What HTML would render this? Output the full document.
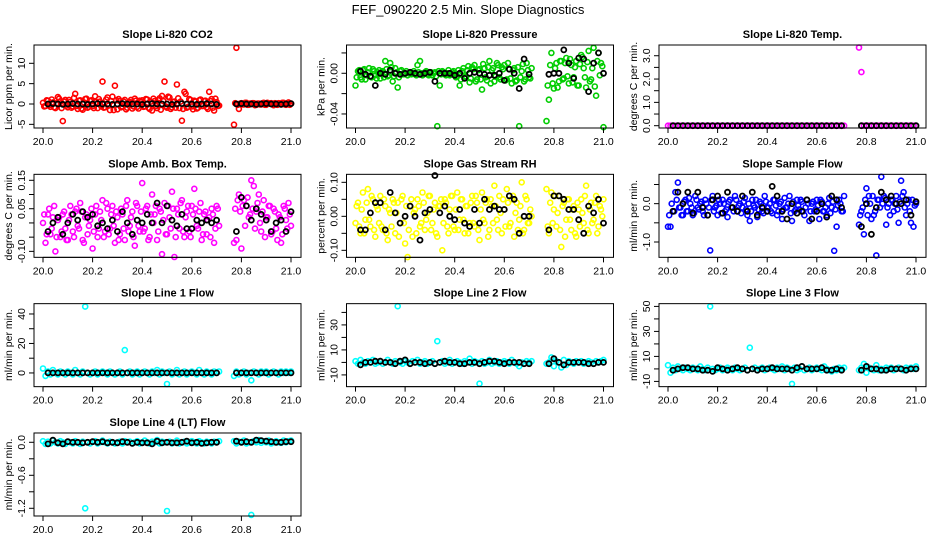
<!DOCTYPE html>
<html><head><meta charset="utf-8"><title>FEF_090220 Slope Diagnostics</title>
<style>
html,body{margin:0;padding:0;background:#fff;}
svg{display:block;font-family:"Liberation Sans",Arial,sans-serif;}
</style></head>
<body>
<svg id="fig" width="936" height="540" viewBox="0 0 936 540" xmlns="http://www.w3.org/2000/svg">
<rect width="936" height="540" fill="#fff"/>
<text x="468" y="14" text-anchor="middle" font-size="13">FEF_090220  2.5 Min. Slope Diagnostics</text>
</svg>
<script>
// x tick labels (shared)
const xTicks = [20.0, 20.2, 20.4, 20.6, 20.8, 21.0];
const xTickLabels = ["20.0", "20.2", "20.4", "20.6", "20.8", "21.0"];

// Panel 1 CO2
const co2Vals = [0.3,-0.5,0.8,-0.7,0.4,-1.0,1.7,0.6,-4.2,1.0,-0.8,0.5,-0.6,2.5,-1.2,0.9,-1.4,1.2,-0.9,0.7,-0.5,1.9,-1.0,0.6,5.5,-0.8,1.6,-1.5,1.8,4.5,-1.3,0.7,-0.6,1.0,-0.9,0.5,-1.1,1.3,-0.7,0.8,0.9,-0.6,1.1,-1.2,-1.6,0.7,-1.0,1.4,2.0,5.5,-0.9,1.6,-0.8,0.6,4.8,-1.0,-4.1,3.0,-0.9,1.2,-0.6,0.8,-1.1,0.9,-0.5,0.7,-0.8,3.0,1.2,-1.6,0.5,-0.4,
 -5.1,13.8,-1.2,0.2,-0.1,0.3,-0.2,0.1,0.2,-0.2,0.1,-0.1,0.3,-0.2,0.1,0.2,-0.3,0.1,0.2,-0.1,0.3,-0.2,0.4,0.1];
const co2Vals2 = [-0.6,0.9,-0.3,1.1,-0.8,0.2,1.3,-1.0,0.6,-0.4,1.0,-0.9,1.5,-0.5,0.8,-1.1,0.4,1.3,-0.7,0.9,-1.0,0.5,1.2,-0.6,-0.9,1.1,-0.4,0.7,-1.5,0.9,1.2,-0.8,0.6,-1.3,0.4,1.0,-0.6,0.8,-1.1,0.5,-0.7,1.2,-0.9,0.6,1.3,-0.5,0.9,-1.4,0.7,-0.6,1.8,-1.2,0.5,-0.9,1.4,0.6,-1.2,2.5,-0.7,1.0,-1.3,0.6,-0.9,1.1,-0.5,0.8,-1.2,0.7,-0.9,1.3,-0.5,
 0.2,-0.2,0.1,-0.1,0.3,-0.2,0.1,0.2,-0.3,0.1,-0.1,0.2,-0.2,0.3,0.1,-0.1,0.2,-0.2,0.1,0.3,-0.1,0.2,-0.2];
const co2Black = [0,0.1,0,-0.1,0,0.1,0,0,-0.1,0,0.1,0,0,-0.1,0,0.1,0,0,0,-0.1,0,0.1,0,0,0,-0.1,0,0.1,0,0,-0.1,0,0.1,0,-0.1,
 0,0.1,0,0,-0.1,0,0.1,0,0,-0.1,0,0.1];
const co2Ticks = [-5,0,5,10];
const co2TickLabels = ["-5","0","5","10"];

// Panel 2 Pressure
const presVals = [-0.012,0.002,-0.004,0.003,-0.006,0.001,-0.003,0.004,-0.002,0.001,-0.005,0.002,0.012,-0.003,0.010,-0.008,0.005,-0.014,0.002,-0.001,0.000,-0.002,0.001,0.000,-0.001,0.008,0.012,-0.002,0.001,-0.001,0.000,-0.002,0.001,-0.052,-0.012,0.002,-0.001,0.000,-0.002,0.001,0.000,-0.003,-0.012,0.002,-0.004,0.003,-0.009,0.006,0.008,-0.006,0.004,-0.016,0.005,-0.007,0.012,0.003,-0.008,0.010,-0.004,0.006,0.008,-0.006,0.004,-0.010,0.005,-0.007,-0.052,0.002,-0.008,0.010,-0.004,0.005,
 -0.047,-0.026,0.020,-0.015,0.010,-0.008,0.012,-0.005,0.015,-0.010,0.008,-0.004,0.012,-0.012,0.018,0.005,-0.014,0.022,-0.006,0.025,-0.022,0.020,0.010,-0.053];
const presVals2 = [-0.004,0.003,-0.006,0.004,-0.002,0.005,-0.004,0.002,-0.005,0.003,0.001,-0.004,0.004,-0.002,0.006,-0.003,0.001,-0.004,0.003,-0.001,0.002,0.000,-0.001,0.002,-0.002,0.001,0.000,-0.001,0.002,-0.002,0.001,0.000,-0.003,0.002,-0.001,0.001,-0.002,0.003,-0.001,0.002,-0.004,0.003,-0.006,0.005,-0.003,0.007,-0.005,0.004,-0.008,0.003,-0.006,0.009,-0.004,0.006,-0.010,0.005,-0.003,0.008,-0.006,0.004,-0.007,0.010,-0.005,0.003,-0.008,0.006,-0.004,0.009,-0.006,0.003,-0.005,
 -0.012,0.008,-0.010,0.005,-0.014,0.012,-0.006,0.010,-0.003,0.014,-0.009,0.006,-0.012,0.009,0.016,-0.004,0.011,-0.008,0.005,-0.013,0.012,-0.002,0.007];
const presBlack = [0.002,-0.001,-0.003,-0.012,0.000,-0.001,0.003,0.000,-0.001,0.000,0.001,0.000,-0.001,0.000,0.001,-0.008,0.000,0.000,0.000,-0.002,0.000,-0.005,0.000,0.001,0.000,-0.001,-0.002,-0.002,0.000,-0.007,0.004,0.000,-0.015,0.014,-0.001,
 -0.001,0.000,0.000,0.023,0.010,-0.005,0.015,0.014,-0.018,0.010,0.020,0.000];
const presTicks = [-0.04,-0.02,0.00,0.02];
const presTickLabels = ["-0.04","","0.00",""];

// Panel 3 Li-820 Temp
const tempVals = [0,0,0,0,0,0,0,0,0,0,0,0,0,0,0,0,0,0,0,0,0,0,0,0,0,0,0,0,0,0,0,0,0,0,0,0,0,0,0,0,0,0,0,0,0,0,0,0,0,0,0,0,0,0,0,0,0,0,0,0,0,0,0,0,0,0,0,0,0,0,0,0,
 3.35,2.3,0,0,0,0,0,0,0,0,0,0,0,0,0,0,0,0,0,0,0,0,0,0];
const tempVals2 = [];
const tempBlack = [0,0,0,0,0,0,0,0,0,0,0,0,0,0,0,0,0,0,0,0,0,0,0,0,0,0,0,0,0,0,0,0,0,0,0,
 0,0,0,0,0,0,0,0,0,0,0,0];
const tempTicks = [0,0.5,1,1.5,2,2.5,3];
const tempTickLabels = ["0.0","","1.0","","2.0","","3.0"];

// Panel 4 Amb Box Temp
const ambVals = [0.00,-0.07,0.03,-0.04,0.02,-0.10,0.01,-0.05,0.03,-0.02,-0.06,0.06,-0.03,0.04,-0.01,0.07,-0.06,0.02,-0.04,0.01,-0.09,0.03,-0.05,0.04,0.08,-0.03,0.05,-0.02,0.06,-0.07,0.02,-0.04,0.03,-0.06,0.08,-0.01,0.04,-0.08,0.06,-0.03,0.14,-0.02,0.06,-0.05,0.10,0.03,-0.06,0.05,-0.11,0.07,-0.04,0.02,0.11,-0.12,0.05,-0.02,0.08,-0.05,0.04,-0.03,0.06,0.12,-0.01,0.04,-0.06,0.03,-0.04,0.02,0.05,-0.07,0.06,-0.01,
 -0.07,-0.06,0.10,-0.09,0.08,0.06,0.02,0.15,0.13,0.04,0.10,-0.03,0.08,0.02,0.06,-0.04,0.05,-0.02,0.03,-0.07,0.06,0.01,0.07,-0.01];
const ambVals2 = [0.03,-0.04,0.05,-0.02,0.06,-0.05,0.02,-0.03,0.04,-0.06,0.01,0.03,-0.05,0.05,-0.02,0.04,-0.07,0.03,-0.01,0.05,-0.03,0.06,-0.02,0.01,-0.05,0.07,-0.04,0.03,-0.01,0.04,-0.06,0.05,-0.02,0.06,-0.03,0.02,-0.05,0.07,-0.01,0.04,-0.03,0.05,-0.06,0.03,0.00,0.06,-0.03,0.04,0.01,-0.04,0.06,-0.02,0.05,-0.05,0.03,0.07,-0.03,0.02,0.06,-0.05,0.03,0.05,-0.02,0.07,-0.04,0.04,0.01,-0.05,0.03,-0.02,0.05,
 0.05,0.08,0.04,0.06,-0.01,0.09,0.03,0.05,-0.02,0.07,0.00,0.04,-0.05,0.02,0.06,-0.03,0.04,-0.06,0.02,-0.04,0.05,-0.02,0.03];
const ambBlack = [-0.03,0.00,0.02,-0.04,0.00,0.03,0.01,0.04,0.02,0.03,-0.01,0.00,-0.02,0.01,-0.03,0.04,0.00,-0.04,0.01,0.00,0.03,0.00,0.07,0.00,0.06,0.01,-0.01,0.03,-0.02,-0.02,0.01,0.00,0.01,0.00,0.01,
 -0.03,0.09,0.06,0.01,0.05,0.03,0.01,-0.03,0.00,0.01,-0.03,0.04];
const ambTicks = [-0.10,-0.05,0,0.05,0.10,0.15];
const ambTickLabels = ["-0.10","","","0.05","","0.15"];

// Panel 5 Gas Stream RH
const rhVals = [-0.02,0.04,-0.05,0.07,-0.01,0.08,-0.03,0.05,-0.06,0.02,0.06,-0.04,0.03,-0.07,0.01,0.05,-0.05,0.04,-0.02,0.06,-0.08,-0.12,0.03,-0.06,0.02,0.05,-0.03,0.07,-0.04,0.01,0.06,-0.02,0.04,-0.06,0.03,-0.10,0.05,-0.03,0.02,0.06,-0.04,0.07,-0.01,0.05,-0.05,0.03,-0.02,0.06,-0.03,0.04,-0.07,0.07,-0.02,0.05,-0.04,0.03,0.09,-0.01,0.06,-0.05,0.02,0.08,-0.03,0.05,-0.06,0.04,-0.01,0.10,-0.04,0.05,-0.02,0.00,
 0.08,-0.05,0.07,0.02,-0.03,0.06,-0.09,0.04,-0.01,0.05,-0.04,0.03,-0.06,0.02,0.05,-0.02,0.09,-0.05,0.04,-0.01,0.06,-0.03,0.02,0.05];
const rhVals2 = [0.03,-0.03,0.02,-0.05,0.04,-0.01,0.06,-0.04,0.03,-0.02,-0.03,0.05,-0.05,0.02,-0.03,0.04,0.01,-0.06,0.05,-0.02,0.03,-0.04,0.05,0.01,-0.05,0.03,-0.02,0.04,-0.01,0.06,-0.04,0.02,-0.05,0.03,0.05,-0.02,0.04,-0.05,0.06,-0.03,0.02,-0.04,0.05,-0.01,0.03,-0.05,0.04,-0.02,0.06,-0.04,0.02,-0.01,0.04,-0.06,0.05,-0.02,0.03,-0.04,0.01,0.05,-0.03,0.04,-0.02,0.06,0.01,-0.04,0.03,-0.05,0.06,-0.02,0.02,
 -0.03,0.04,-0.02,0.06,0.01,-0.04,0.03,-0.06,0.05,-0.01,0.02,-0.05,0.04,-0.03,0.01,0.06,-0.04,0.02,-0.02,0.04,-0.05,0.03,0.00];
const rhBlack = [-0.04,-0.04,0.01,0.04,0.04,-0.04,0.07,0.01,-0.02,0.00,0.03,0.00,-0.07,0.01,0.02,0.12,0.01,0.03,0.00,-0.01,0.02,-0.02,-0.03,0.02,-0.02,0.05,0.02,0.03,0.02,0.02,0.06,0.05,-0.05,0.00,0.00,
 -0.04,0.06,0.06,0.05,0.02,0.02,-0.01,-0.05,0.03,0.01,0.05,-0.02];
const rhTicks = [-0.10,-0.05,0,0.05,0.10];
const rhTickLabels = ["-0.10","","0.00","","0.10"];

// Panel 6 Sample Flow
const sfVals = [-0.6,-0.6,-0.2,0.3,0.55,-0.1,-0.3,0.1,-0.2,0.0,-0.3,0.2,-0.1,0.0,-0.2,0.1,-0.3,-1.22,0.2,-0.1,-0.3,0.0,0.1,-0.2,-0.35,0.1,-0.1,0.2,-0.2,0.0,-0.1,0.15,-0.3,-0.45,0.1,-0.1,-0.35,0.05,-0.2,0.2,-0.1,0.0,-0.25,0.1,-0.3,0.0,-0.4,0.15,-0.1,0.2,-0.45,-0.2,0.1,-0.15,0.05,-0.3,0.1,-0.45,0.0,-0.2,0.1,-0.4,0.05,-0.2,-0.3,0.15,-0.1,-1.23,-0.6,0.1,-0.2,0.2,
 -0.55,-0.2,-0.8,0.4,0.2,-0.4,-0.3,-1.35,0.1,0.7,0.2,-0.55,0.0,0.1,-0.2,0.2,-0.5,0.6,0.3,-0.3,0.1,-0.5,-0.6,0.0];
const sfVals2 = [-0.3,0.0,-0.2,0.1,-0.1,-0.3,0.05,-0.2,0.15,-0.1,-0.25,0.1,-0.15,0.05,-0.3,0.0,-0.1,0.1,-0.2,-0.05,0.1,-0.25,0.0,-0.15,0.05,-0.1,-0.2,0.1,-0.05,-0.25,0.05,-0.15,0.0,-0.2,-0.05,0.1,-0.15,0.0,-0.25,0.05,-0.1,-0.2,0.1,-0.05,-0.2,0.05,-0.15,-0.1,0.0,-0.25,0.05,-0.15,-0.05,0.1,-0.2,-0.1,0.0,-0.2,0.05,-0.15,-0.05,0.1,-0.2,-0.1,0.0,-0.25,0.05,-0.15,-0.05,0.0,-0.2,
 -0.3,-0.1,0.1,-0.3,0.0,0.2,-0.2,0.1,-0.1,0.0,0.15,-0.1,-0.3,0.1,0.0,-0.15,0.05,0.2,-0.1,0.0,-0.2,0.1,-0.05];
const sfBlack = [-0.2,0.3,0.0,0.3,-0.25,0.3,-0.1,-0.3,0.1,0.2,-0.25,0.3,-0.1,-0.2,0.2,-0.2,0.3,-0.3,-0.1,-0.2,0.45,0.2,-0.2,-0.4,0.0,-0.25,-0.2,0.1,-0.4,-0.2,0.0,-0.35,0.2,0.1,-0.1,
 -0.6,0.0,-0.8,-0.1,0.3,0.1,0.2,0.0,0.0,0.1,-0.3,0.05];
const sfTicks = [-1.0,-0.5,0.0,0.5];
const sfTickLabels = ["-1.0","","0.0",""];

// Panel 7 Line 1 Flow
const l1Vals = [3,-2,1,-1,2,0,-1,1,0,-1,1,0,-1,2,0,-1,1,45,0,-1,0,1,-1,0,1,0,-1,1,0,-1,0,1,-1,15.5,0,1,-1,0,1,-1,0,1,0,-1,1,0,2,-1,1,0,-7.5,1,-1,0,2,-1,0,1,-1,0,1,0,-1,2,0,-1,1,0,-1,1,0,1,
 -2,1,-1,0,1,-1,0,-5,1,0,-1,1,0,1,-1,0,1,0,-1,1,0,1,0,1];
const l1Vals2 = [];
const l1Black = [0,0,0,0,0,0,0,0,0,0,0,0,0,0,0,0,0,0,0,0,0,0,0,0,0,0,0,0,0,0,0,0,0,0,0,
 0,0,0,0,0,0,0,0,0,0,0,0];
const l1Ticks = [0,10,20,30,40];
const l1TickLabels = ["0","","20","","40"];

// Panel 8 Line 2 Flow
const l2Vals = [1,-1,2,0,-1,1,0,2,-1,0,1,-1,0,2,0,-1,1,45,0,-1,1,0,-1,1,0,2,-1,0,1,-1,0,1,-1,17,0,1,-1,0,2,-1,0,1,0,-1,1,0,3,-1,1,0,-17,1,-1,0,2,-1,0,1,-1,0,1,0,-1,2,0,-1,-3,0,-1,1,0,1,
 -1,0,4,-3,1,0,-4,2,-2,1,0,-1,1,0,1,-1,0,1,0,-1,1,0,1,2];
const l2Vals2 = [];
const l2Black = [-2,0,0,1,1,0,0,-1,1,2,-1,0,0,-1,0,-1,0,1,0,0,-1,-1,0,0,-1,0,1,1,0,-1,0,0,0,-1,-1,
 -1,3,0,-2,0,0,0,0,-1,-1,0,0];
const l2Ticks = [-10,0,10,20,30,40];
const l2TickLabels = ["-10","","10","","30",""];

// Panel 9 Line 3 Flow
const l3Vals = [3,-3,1,-1,2,0,-1,1,0,-1,1,0,-1,2,0,-1,1,50,0,-1,0,1,-1,0,1,0,-1,1,0,-1,0,1,-1,17,0,1,-1,0,1,-1,0,1,0,-1,1,0,2,-1,1,0,-12,1,-1,0,2,-1,0,1,-1,0,1,0,-1,2,0,-1,-2,0,-1,1,0,1,
 -1,1,4,-3,1,0,-1,3,-1,0,-1,1,0,1,-1,0,1,0,-1,1,0,1,0,2];
const l3Vals2 = [];
const l3Black = [-1,0,1,1,0,0,-1,-1,-2,1,0,-1,0,1,0,-1,0,-1,0,0,1,0,0,0,-1,1,2,0,0,0,1,-1,-1,0,-1,
 -1,2,0,0,-1,-1,0,0,0,-1,0,0];
const l3Ticks = [-10,0,10,20,30,40,50];
const l3TickLabels = ["-10","","10","","30","","50"];

// Panel 10 Line 4 (LT) Flow
const l4Vals = [0.02,-0.03,0.01,-0.02,0.03,0.00,-0.02,0.02,0.00,-0.03,0.01,0.00,-0.02,0.02,0.00,-0.03,0.01,-1.20,0.00,-0.02,0.01,0.02,-0.02,0.00,0.03,0.00,-0.02,0.01,0.00,-0.02,0.00,0.01,-0.02,0.02,0.00,0.01,-0.02,0.00,0.02,-0.02,0.00,0.03,0.00,-0.02,0.01,0.00,0.04,-0.02,0.01,0.00,-1.25,0.01,-0.02,0.00,0.03,-0.02,0.00,0.01,-0.02,0.00,0.02,0.00,-0.02,0.02,0.00,-0.02,0.01,0.00,-0.02,0.01,0.00,0.02,
 0.02,-0.02,0.01,0.00,0.03,-0.02,0.00,-1.32,0.02,0.00,0.04,-0.01,0.02,0.00,0.03,-0.02,0.00,0.02,0.00,-0.01,0.03,0.00,0.02,0.03];
const l4Vals2 = [];
const l4Black = [-0.03,0.04,-0.01,-0.03,0.01,0.00,0.00,-0.01,0.00,0.01,0.00,0.01,-0.01,0.00,-0.01,0.01,0.00,-0.02,0.00,-0.01,-0.01,-0.03,0.02,-0.01,0.00,-0.01,-0.01,0.00,0.02,-0.01,0.00,-0.02,-0.01,0.00,0.00,
 0.02,0.00,0.01,0.00,0.04,0.03,0.02,0.01,0.00,0.00,0.01,0.01];
const l4Ticks = [-1.2,-0.9,-0.6,-0.3,0.0];
const l4TickLabels = ["-1.2","","-0.6","","0.0"];

const panels = [
 {name:"co2", title:"Slope Li-820 CO2", ylab:"Licor ppm per min.", col:"#ff0000", vals:co2Vals, vals2:co2Vals2, black:co2Black, ticks:co2Ticks, tl:co2TickLabels, ylim:[-5.9,14.5], r:0, c:0},
 {name:"pressure", title:"Slope Li-820 Pressure", ylab:"kPa per min.", col:"#00cd00", vals:presVals, vals2:presVals2, black:presBlack, ticks:presTicks, tl:presTickLabels, ylim:[-0.0538,0.0278], r:0, c:1},
 {name:"li820-temp", title:"Slope Li-820 Temp.", ylab:"degrees C per min.", col:"#ff00ff", vals:tempVals, vals2:tempVals2, black:tempBlack, ticks:tempTicks, tl:tempTickLabels, ylim:[-0.099,3.46], r:0, c:2},
 {name:"amb-box-temp", title:"Slope Amb. Box Temp.", ylab:"degrees C per min.", col:"#ff00ff", vals:ambVals, vals2:ambVals2, black:ambBlack, ticks:ambTicks, tl:ambTickLabels, ylim:[-0.121,0.171], r:1, c:0},
 {name:"gas-stream-rh", title:"Slope Gas Stream RH", ylab:"percent per min.", col:"#ffff00", vals:rhVals, vals2:rhVals2, black:rhBlack, ticks:rhTicks, tl:rhTickLabels, ylim:[-0.1206,0.1235], r:1, c:1},
 {name:"sample-flow", title:"Slope Sample Flow", ylab:"ml/min per min.", col:"#0000ff", vals:sfVals, vals2:sfVals2, black:sfBlack, ticks:sfTicks, tl:sfTickLabels, ylim:[-1.40,0.765], r:1, c:2},
 {name:"line1-flow", title:"Slope Line 1 Flow", ylab:"ml/min per min.", col:"#00ffff", vals:l1Vals, vals2:l1Vals2, black:l1Black, ticks:l1Ticks, tl:l1TickLabels, ylim:[-9.3,47], r:2, c:0},
 {name:"line2-flow", title:"Slope Line 2 Flow", ylab:"ml/min per min.", col:"#00ffff", vals:l2Vals, vals2:l2Vals2, black:l2Black, ticks:l2Ticks, tl:l2TickLabels, ylim:[-19.4,47], r:2, c:1},
 {name:"line3-flow", title:"Slope Line 3 Flow", ylab:"ml/min per min.", col:"#00ffff", vals:l3Vals, vals2:l3Vals2, black:l3Black, ticks:l3Ticks, tl:l3TickLabels, ylim:[-14.2,52.2], r:2, c:2},
 {name:"line4-flow", title:"Slope Line 4 (LT) Flow", ylab:"ml/min per min.", col:"#00ffff", vals:l4Vals, vals2:l4Vals2, black:l4Black, ticks:l4Ticks, tl:l4TickLabels, ylim:[-1.34,0.169], r:3, c:0}
];

const NS = "http://www.w3.org/2000/svg";
const svg = document.getElementById("fig");
function mk(tag, attrs, parent){
  const e = document.createElementNS(NS, tag);
  for (const k in attrs) e.setAttribute(k, attrs[k]);
  parent.appendChild(e);
  return e;
}
function colorTime(i){ return i < 72 ? 20 + i*0.01 : 20.77 + (i-72)*0.01; }
function colorTime2(i){ return i < 71 ? 20.005 + i*0.01 : 20.775 + (i-71)*0.01; }
function blackTime(i){ return i < 35 ? 20.02 + i*0.02 : 20.78 + (i-35)*0.02; }

panels.forEach(p => {
  const L = 34 + 312.5*p.c, W = 267;
  const T = 45 + 129.33*p.r, H = 83;
  const xs = v => L + 9 + (v - 20) * 248;
  const ys = v => T + H - (v - p.ylim[0]) / (p.ylim[1] - p.ylim[0]) * H;
  const g = mk("g", {}, svg);
  
  

  const ttl = mk("text", {x: L + W/2, y: T - 7, "text-anchor":"middle", "font-size":"11", "font-weight":"bold"}, g);
  ttl.textContent = p.title;
  
  

  const pts = mk("g", {fill:"none", stroke:p.col, "stroke-width":"1.6"}, g);
  
  
  p.vals.forEach((v, i) => {
    const c = mk("circle", {cx: xs(colorTime(i)).toFixed(1), cy: ys(v).toFixed(1), r: 2.5}, pts);
    
    
  });
  p.vals2.forEach((v, i) => {
    const c = mk("circle", {cx: xs(colorTime2(i)).toFixed(1), cy: ys(v).toFixed(1), r: 2.5}, pts);
    
    
  });
  const bpts = mk("g", {fill:"none", stroke:"#000", "stroke-width":"1.8"}, g);
  
  
  p.black.forEach((v, i) => {
    const c = mk("circle", {cx: xs(blackTime(i)).toFixed(1), cy: ys(v).toFixed(1), r: 2.5}, bpts);
    
    
  });

  const box = mk("rect", {x:L, y:T, width:W, height:H, fill:"none", stroke:"#000", "stroke-width":"1"}, g);
  
  

  const xa = mk("g", {}, g);
  
  
  mk("line", {x1: xs(xTicks[0]), x2: xs(xTicks[xTicks.length-1]), y1: T+H, y2: T+H, stroke:"#000"}, xa);
  xTicks.forEach((t, i) => {
    mk("line", {x1: xs(t), x2: xs(t), y1: T+H, y2: T+H+5, stroke:"#000"}, xa);
    const tx = mk("text", {x: xs(t), y: T+H+17, "text-anchor":"middle", "font-size":"10.5"}, xa);
    tx.textContent = xTickLabels[i];
    
    
  });

  const ya = mk("g", {}, g);
  
  
  mk("line", {x1: L, x2: L, y1: ys(p.ticks[0]), y2: ys(p.ticks[p.ticks.length-1]), stroke:"#000"}, ya);
  p.ticks.forEach((t, i) => {
    const y = ys(t);
    mk("line", {x1: L-5, x2: L, y1: y, y2: y, stroke:"#000"}, ya);
    if (p.tl[i]) {
      const tx = mk("text", {x: L-9, y: y, "text-anchor":"middle", "font-size":"10.5", transform:`rotate(-90 ${L-9} ${y})`}, ya);
      tx.textContent = p.tl[i];
      
      
    }
  });
  const yl = mk("text", {x: L-22, y: T+H/2, "text-anchor":"middle", "font-size":"10.5", transform:`rotate(-90 ${L-22} ${T+H/2})`}, g);
  yl.textContent = p.ylab;
  
  
});
</script>
</body></html>
